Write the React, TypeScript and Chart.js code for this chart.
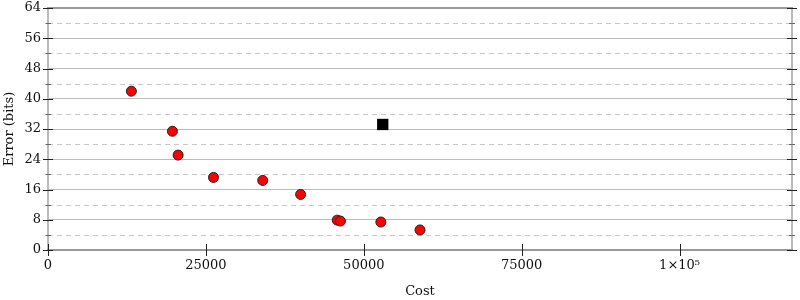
import React, { useEffect, useRef } from "react";
import { Chart, registerables } from "chart.js";

Chart.register(...registerables);

const costs = [13200, 19700, 20600, 26200, 34000, 40000, 45800, 46300, 52700, 58900];
const errors = [42.0, 31.4, 25.1, 19.2, 18.4, 14.7, 7.9, 7.65, 7.4, 5.3];
const refCost = [53000];
const refError = [33.2];
const xTicks = [0, 25000, 50000, 75000, 100000];
const xTickLabels = ["0", "25000", "50000", "75000", "1×10⁵"];
const yTicks = [0, 8, 16, 24, 32, 40, 48, 56, 64];
const yMinorTicks = [4, 12, 20, 28, 36, 44, 52, 60];
const xMax = 117800;
const yMax = 64;

const FONT = "'DejaVu Serif', serif";

const framePlugin = {
  id: "frame",
  beforeDatasetsDraw(chart: any) {
    const { ctx, chartArea } = chart;
    const { left, right, top, bottom } = chartArea;
    const xs = chart.scales.x;
    const ys = chart.scales.y;
    ctx.save();
    // dashed minor grid lines
    ctx.strokeStyle = "#c8c8c8";
    ctx.lineWidth = 1;
    ctx.setLineDash([5, 4]);
    for (const v of yMinorTicks) {
      const y = Math.round(ys.getPixelForValue(v)) + 0.5;
      ctx.beginPath();
      ctx.moveTo(left, y);
      ctx.lineTo(right, y);
      ctx.stroke();
    }
    ctx.setLineDash([]);
    // left/right frame
    ctx.strokeStyle = "#bbbbbb";
    ctx.lineWidth = 2;
    ctx.beginPath();
    ctx.moveTo(left, top);
    ctx.lineTo(left, bottom);
    ctx.moveTo(right, top);
    ctx.lineTo(right, bottom);
    ctx.stroke();
    // top/bottom frame
    ctx.strokeStyle = "#999999";
    ctx.lineWidth = 2;
    ctx.beginPath();
    ctx.moveTo(left - 1, top);
    ctx.lineTo(right + 1, top);
    ctx.moveTo(left - 1, bottom);
    ctx.lineTo(right + 1, bottom);
    ctx.stroke();
    // major y ticks (crossing)
    ctx.strokeStyle = "#222222";
    ctx.lineWidth = 1;
    ctx.beginPath();
    for (const v of yTicks) {
      const y = Math.round(ys.getPixelForValue(v)) + 0.5;
      ctx.moveTo(left - 5, y);
      ctx.lineTo(left + 5, y);
      ctx.moveTo(right - 5, y);
      ctx.lineTo(right + 5, y);
    }
    ctx.stroke();
    // minor y ticks
    ctx.strokeStyle = "#666666";
    ctx.beginPath();
    for (const v of yMinorTicks) {
      const y = Math.round(ys.getPixelForValue(v)) + 0.5;
      ctx.moveTo(left - 2.5, y);
      ctx.lineTo(left + 3, y);
      ctx.moveTo(right - 3, y);
      ctx.lineTo(right + 3, y);
    }
    ctx.stroke();
    // x ticks
    ctx.strokeStyle = "#222222";
    ctx.beginPath();
    for (const v of xTicks) {
      const x = Math.round(xs.getPixelForValue(v)) + 0.5;
      ctx.moveTo(x, bottom - 6);
      ctx.lineTo(x, bottom + 6);
    }
    ctx.stroke();
    ctx.restore();
  },
};

export default function App() {
  const ref = useRef<HTMLCanvasElement | null>(null);
  useEffect(() => {
    if (!ref.current) return;
    const chart = new Chart(ref.current, {
      type: "scatter",
      data: {
        datasets: [
          {
            label: "points",
            data: costs.map((c, i) => ({ x: c, y: errors[i] })),
            backgroundColor: "#ff0000",
            borderColor: "#222222",
            borderWidth: 1,
            pointRadius: 5,
            pointHoverRadius: 5,
          },
          {
            label: "reference",
            data: refCost.map((c, i) => ({ x: c, y: refError[i] })),
            backgroundColor: "#000000",
            borderColor: "#000000",
            borderWidth: 0,
            pointStyle: "rect",
            pointRadius: 8,
            pointHoverRadius: 8,
          },
        ],
      },
      options: {
        animation: false,
        responsive: true,
        maintainAspectRatio: false,
        layout: { padding: { left: 0, right: 6, top: 8, bottom: 0 } },
        plugins: { legend: { display: false }, tooltip: { enabled: false } },
        scales: {
          x: {
            type: "linear",
            min: 0,
            max: xMax,
            afterBuildTicks: (s: any) => {
              s.ticks = xTicks.map((v) => ({ value: v }));
            },
            afterFit: (s: any) => {
              s.height = 50;
              s.paddingLeft = 0;
              s.paddingRight = 0;
            },
            grid: { display: false, drawTicks: false },
            border: { display: false },
            ticks: {
              padding: 8,
              color: "#111",
              font: { family: FONT, size: 13 },
              maxRotation: 0,
              callback: (v: any) => {
                const i = xTicks.indexOf(Number(v));
                return i >= 0 ? xTickLabels[i] : "";
              },
            },
            title: {
              display: true,
              text: "Cost",
              color: "#111",
              font: { family: FONT, size: 13 },
              padding: { top: 0, bottom: 1 },
            },
          },
          y: {
            type: "linear",
            min: 0,
            max: yMax,
            afterBuildTicks: (s: any) => {
              s.ticks = yTicks.map((v) => ({ value: v }));
            },
            afterFit: (s: any) => {
              s.width = 48;
              s.paddingTop = 0;
              s.paddingBottom = 0;
            },
            grid: {
              drawTicks: false,
              color: (c: any) =>
                c.tick && (c.tick.value === 0 || c.tick.value === yMax) ? "rgba(0,0,0,0)" : "#bbbbbb",
              lineWidth: 1,
            },
            border: { display: false },
            ticks: {
              padding: 7,
              color: "#111",
              font: { family: FONT, size: 13 },
            },
            title: {
              display: true,
              text: "Error (bits)",
              color: "#111",
              font: { family: FONT, size: 13 },
              padding: { top: 2, bottom: 0 },
            },
          },
        },
      },
      plugins: [framePlugin],
    });
    return () => chart.destroy();
  }, []);
  return (
    <div style={{ position: "fixed", left: 0, top: 0, width: 800, height: 300, background: "#fff" }}>
      <canvas ref={ref} />
    </div>
  );
}
